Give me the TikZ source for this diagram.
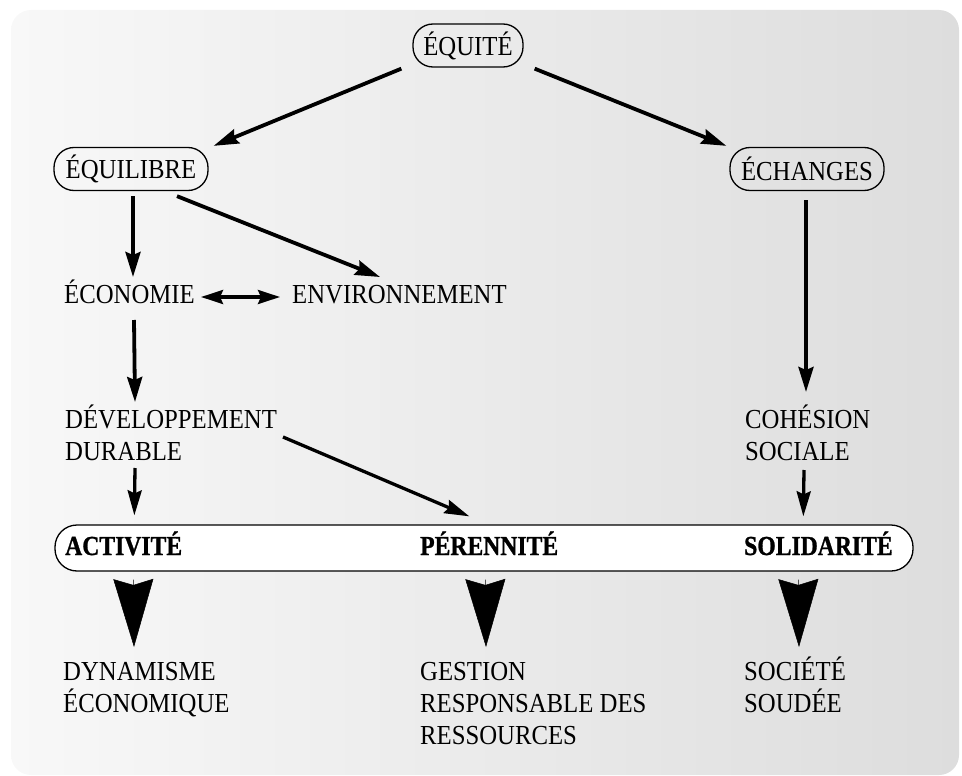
\documentclass[tikz,border=0pt]{standalone}
\usepackage{fontspec}
\setmainfont{Liberation Serif}[FakeStretch=0.9]
\newfontfamily\bfnt{Liberation Serif}[FakeStretch=0.86, BoldFeatures={FakeBold=1}]
\usetikzlibrary{arrows.meta}
\definecolor{bgl}{HTML}{F8F8F8}
\definecolor{bgr}{HTML}{DDDDDD}
\newcommand\lnsii[2]{\vtop{\baselineskip=32pt\hbox{#1}\hbox{#2}}}
\newcommand\lnsiii[3]{\vtop{\baselineskip=32pt\hbox{#1}\hbox{#2}\hbox{#3}}}
\tikzset{
  every node/.style={font=\fontsize{27.5}{32}\selectfont},
  pill/.style={draw=black, line width=1.3pt, rounded corners=20pt, inner sep=0pt,
    minimum height=43pt},
  txt/.style={inner sep=0pt, anchor=base west},
  btxt/.style={inner sep=0pt, anchor=base west, font=\fontsize{27.5}{32}\bfnt\bfseries},
  arr/.style={line width=3.8pt, -{Stealth[length=25pt,width=15pt,inset=3pt]}},
  arrs/.style={line width=3.3pt, -{Stealth[length=25pt,width=14pt,inset=3pt]}},
  darr/.style={line width=3.3pt, {Stealth[length=22pt,width=14pt,inset=3pt]}-{Stealth[length=22pt,width=14pt,inset=3pt]}},
  bigarr/.style={line width=0.5pt, -{Stealth[length=68pt,width=40pt,inset=6pt]}}
}
\begin{document}
\begin{tikzpicture}[x=1pt,y=-1pt]
\useasboundingbox (0,0) rectangle (962,776);
\shade[left color=bgl, right color=bgr, rounded corners=20pt] (11,10) rectangle (959,775);

% boxes
\node[pill, minimum width=110pt] (equite) at (468,45.5) {ÉQUITÉ};
\node[pill, minimum width=154pt] (equilibre) at (131,169) {ÉQUILIBRE};
\node[pill, minimum width=154pt] (echanges) at (807,169) {ÉCHANGES};

% text nodes
\node[txt] (econ) at (64,303) {ÉCONOMIE};
\node[txt] (env) at (292,303) {ENVIRONNEMENT};
\node[txt] (dev) at (65,428) {\lnsii{DÉVELOPPEMENT}{DURABLE}};
\node[txt] (coh) at (745,428) {\lnsii{COHÉSION}{SOCIALE}};

% bar
\node[draw=black, fill=white, line width=1.3pt, rounded corners=22pt, inner sep=0pt,
  minimum width=858pt, minimum height=46pt] (bar) at (484,548) {};
\node[btxt] (act) at (65,555) {ACTIVITÉ};
\node[btxt] (per) at (420,555) {PÉRENNITÉ};
\node[btxt] (sol) at (744,555) {SOLIDARITÉ};

% bottom texts
\node[txt] (dyn) at (63,680) {\lnsii{DYNAMISME}{ÉCONOMIQUE}};
\node[txt] (gest) at (420,680) {\lnsiii{GESTION}{RESPONSABLE DES}{RESSOURCES}};
\node[txt] (soc) at (744,680) {\lnsii{SOCIÉTÉ}{SOUDÉE}};

% connectors
\draw[arr] ([shift={(-11,1)}]equite.south west) -- ([shift={(5,-1)}]equilibre.north east);
\draw[arr] ([shift={(11,1)}]equite.south east) -- ([shift={(-3,-1)}]echanges.north west);
\draw[arr] ([shift={(2,5)}]equilibre.south) -- ([shift={(69,-26)}]econ.base west);
\draw[arr] ([shift={(46,5)}]equilibre.south) -- ([shift={(88,-26)}]env.base west);
\draw[darr] ([shift={(6,-6)}]econ.base east) -- ([shift={(-12,-6)}]env.base west);
\draw[arr] ([shift={(70,17)}]econ.base west) -- ([shift={(70,-26)}]dev.base west);
\draw[arrs] ([shift={(70,40)}]dev.base west) -- ([shift={(80,-9)}]bar.north west);
\draw[arrs] ([shift={(218,9)}]dev.base west) -- ([shift={(415,-8)}]bar.north west);
\draw[arr] ([shift={(-1,9)}]echanges.south) -- ([shift={(61,-36)}]coh.base west);
\draw[arrs] ([shift={(59,42)}]coh.base west) -- ([shift={(749,-8)}]bar.north west);

% big arrows
\draw[bigarr] ([shift={(79,8)}]bar.south west) -- ([shift={(71,-33)}]dyn.base west);
\draw[bigarr] ([shift={(431,8)}]bar.south west) -- ([shift={(66,-33)}]gest.base west);
\draw[bigarr] ([shift={(744,8)}]bar.south west) -- ([shift={(55,-33)}]soc.base west);
\end{tikzpicture}
\end{document}
